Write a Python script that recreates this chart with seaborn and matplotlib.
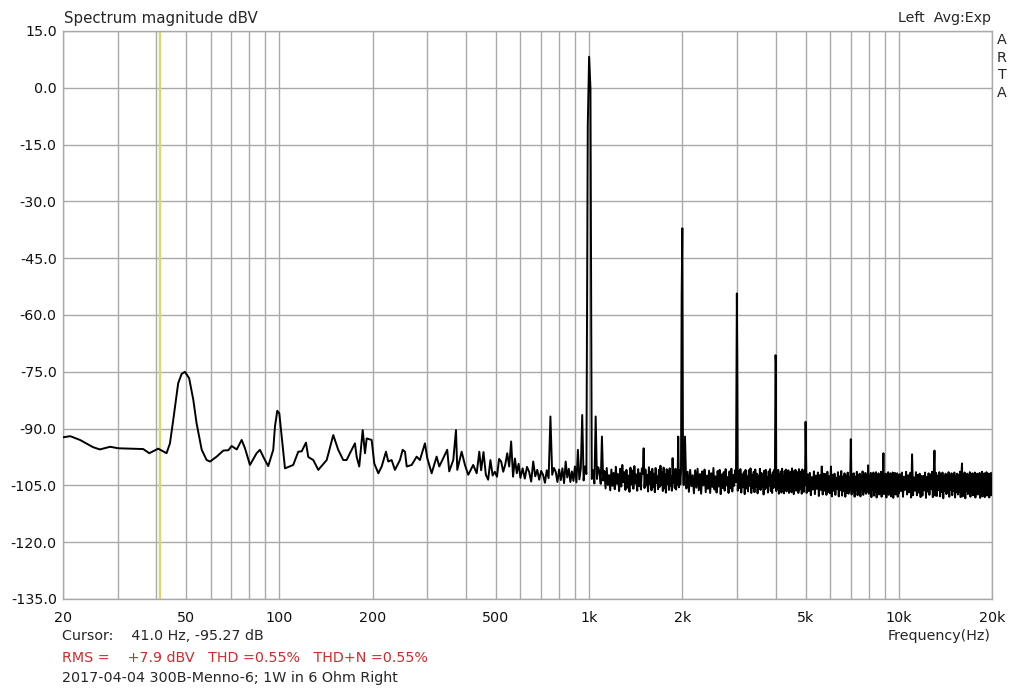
import numpy as np
import pandas as pd
import matplotlib
matplotlib.use("Agg")
import matplotlib.pyplot as plt
import seaborn as sns
from matplotlib.ticker import FixedLocator, FixedFormatter, NullFormatter

# ---------------- data ----------------
low_freq = [20.0, 21.1, 22.7, 25.0, 26.3, 28.4, 30.2, 36.3, 38.0, 40.6,
            43.2, 44.3, 45.4, 47.1, 48.3, 49.5, 51.1, 52.7, 54.0, 56.1,
            58.2, 59.7, 62.7, 65.9, 68.4, 70.1, 72.8, 75.5, 77.4, 80.3,
            84.4, 86.5, 89.1, 92.0, 95.5, 96.7, 98.4, 99.9, 101.7, 104.2,
            110.8, 115.0, 118.0, 121.8, 123.9, 128.6, 133.5, 142.1, 149.2, 154.8,
            160.7]
low_db = [-92.3, -92.0, -93.0, -94.9, -95.5, -94.8, -95.2, -95.4, -96.5, -95.3,
          -96.5, -93.9, -87.7, -78.0, -75.6, -75.0, -76.7, -82.4, -88.6, -95.6,
          -98.3, -98.7, -97.4, -95.8, -95.7, -94.6, -95.5, -93.0, -95.2, -99.6,
          -96.5, -95.6, -97.8, -99.9, -95.6, -89.5, -85.3, -86.0, -92.1, -100.5,
          -99.6, -96.1, -96.0, -93.7, -97.5, -98.3, -100.9, -98.3, -91.7, -95.6,
          -98.3]

mid_freq = [164.8, 168.9, 175.3, 177.5, 181.0, 185.7, 188.9, 191.3, 198.5, 202.4,
            208.6, 213.9, 220.8, 224.6, 230.3, 236.0, 245.0, 250.0, 254.3, 257.6,
            267.3, 277.4, 284.2, 295.0, 300.2, 310.1, 321.8, 328.2, 338.1, 348.2,
            353.4, 364.2, 371.6, 375.2, 387.6, 397.2, 407.1, 422.4, 433.4, 442.0]
mid_db = [-98.3, -96.5, -93.9, -97.4, -100.0, -90.4, -96.5, -92.6, -93.0, -99.2,
          -101.8, -100.0, -96.1, -98.7, -98.3, -100.9, -98.3, -95.6, -96.1, -100.0,
          -99.6, -97.4, -98.3, -93.9, -97.8, -101.8, -97.4, -100.0, -97.8, -95.6,
          -101.3, -98.3, -90.4, -100.9, -96.1, -99.6, -102.2, -99.6, -101.8, -96.1]

mid2_freq = [448, 456, 464, 472, 480, 488, 496, 504, 512, 520,
             528, 536, 544, 552, 560, 568, 576, 584, 592, 600,
             610, 620, 630, 640, 650, 660, 670, 680, 690, 700,
             710, 720, 730, 740, 750, 760, 770, 780, 790, 800,
             810, 820, 830, 840, 850, 860, 870, 880, 890, 900,
             910, 920, 930, 940, 950, 960, 970, 980, 990, 1000,
             1010, 1020, 1030, 1040, 1050, 1060, 1070, 1080, 1090, 1100,
             1110]
mid2_db = [-101.0, -96.2, -102.2, -103.5, -98.3, -102.4, -101.4, -102.7, -98.0, -98.7,
           -101.4, -99.5, -96.5, -100.0, -93.4, -102.7, -97.9, -101.8, -99.3, -103.0,
           -100.5, -103.2, -100.1, -101.4, -104.0, -98.7, -102.6, -100.9, -103.5, -101.2,
           -102.2, -104.3, -101.0, -103.1, -86.8, -102.2, -100.4, -101.4, -104.1, -100.8,
           -103.6, -100.5, -104.4, -98.7, -102.9, -100.6, -104.1, -101.3, -103.8, -100.0,
           -104.2, -95.6, -103.4, -100.6, -86.4, -103.7, -100.0, -102.0, -10.0, 8.2,
           -0.1, -103.3, -101.0, -104.5, -86.8, -103.3, -100.2, -101.4, -104.6, -92.1,
           -103.7]

hf_a_freq = [1120, 1130, 1140, 1150, 1160, 1170, 1180, 1190, 1200, 1210,
             1220, 1230, 1240, 1250, 1260, 1270, 1280, 1290, 1300, 1310,
             1320, 1330, 1340, 1350, 1360, 1370, 1380, 1390, 1400, 1410,
             1420, 1430, 1440, 1450, 1460, 1470, 1480, 1490, 1500, 1510,
             1520, 1530, 1540, 1550, 1560, 1570, 1580, 1590, 1600, 1610,
             1620, 1630, 1640, 1650, 1660, 1670, 1680, 1690, 1700, 1710,
             1720, 1730, 1740, 1750, 1760, 1770, 1780, 1790, 1800, 1810,
             1820, 1830, 1840, 1850, 1860, 1870, 1880, 1890, 1900, 1910,
             1920, 1930, 1940, 1950, 1960, 1970, 1980, 1990, 2000]
hf_a_db = [-101.2, -105.8, -100.4, -104.9, -102.3, -106.3, -100.8, -105.1, -101.7, -106.0,
           -100.1, -104.6, -102.0, -106.5, -100.6, -105.3, -99.6, -104.2, -101.5, -106.2,
           -100.9, -105.6, -102.4, -106.7, -100.3, -104.8, -101.1, -105.9, -99.9, -104.5,
           -102.1, -106.4, -100.7, -105.2, -101.8, -106.1, -100.5, -101.9, -95.2, -105.7,
           -100.8, -105.0, -102.2, -106.6, -100.2, -104.7, -101.4, -106.3, -100.6, -105.5,
           -101.9, -106.8, -100.4, -104.4, -102.6, -106.0, -100.9, -105.4, -99.8, -104.9,
           -101.6, -106.5, -100.3, -105.8, -102.0, -106.9, -100.7, -104.6, -101.3, -106.2,
           -100.5, -105.1, -102.5, -106.4, -97.8, -104.3, -101.0, -105.7, -100.6, -106.1,
           -101.2, -104.8, -92.1, -105.5, -100.9, -104.7, -101.5, -54.7, -37.1]

hf_b_freq = [2010,
             2020, 2040, 2060, 2080, 2100, 2120, 2140, 2160, 2180, 2200,
             2220, 2240, 2260, 2280, 2300, 2320, 2340, 2360, 2380, 2400,
             2420, 2440, 2460, 2480, 2500, 2520, 2540, 2560, 2580, 2600,
             2620, 2640, 2660, 2680, 2700, 2720, 2740, 2760, 2780, 2800,
             2820, 2840, 2860, 2880, 2900, 2920, 2940, 2960, 2980,
             3000, 3010,
             3020, 3040, 3060, 3080, 3100, 3120, 3140, 3160, 3180, 3200,
             3220, 3240, 3260, 3280, 3300, 3320, 3340, 3360, 3380, 3400,
             3420, 3440, 3460, 3480, 3500, 3520, 3540, 3560, 3580, 3600,
             3620, 3640, 3660, 3680, 3700, 3720, 3740, 3760, 3780, 3800,
             3820, 3840, 3860, 3880, 3900, 3920, 3940, 3960, 3980,
             4000, 4010,
             4020, 4040, 4060, 4080, 4100, 4120, 4140, 4160, 4180, 4200,
             4220, 4240, 4260, 4280, 4300, 4320, 4340, 4360, 4380, 4400,
             4420, 4440, 4460, 4480, 4500, 4520, 4540, 4560, 4580, 4600,
             4620, 4640, 4660, 4680, 4700, 4720, 4740, 4760, 4780, 4800,
             4820, 4840, 4860, 4880, 4900, 4920, 4940, 4960, 4980]
hf_b_db = [-100.2,
           -104.9, -92.1, -105.8, -101.4, -106.7, -100.9, -105.2, -102.3, -107.1, -101.0,
           -105.6, -100.6, -106.3, -102.0, -107.2, -101.3, -105.0, -100.8, -106.8, -102.4,
           -105.9, -101.1, -107.0, -101.8, -105.4, -100.4, -106.1, -102.6, -106.9, -101.2,
           -105.3, -100.9, -107.3, -102.1, -105.7, -101.5, -106.4, -100.7, -105.0, -102.8,
           -107.0, -101.3, -105.8, -100.6, -106.6, -102.2, -105.1, -101.0, -104.2,
           -54.3, -71.9,
           -106.4, -101.2, -105.7, -100.7, -106.9, -102.1, -105.5, -101.5, -107.3, -100.9,
           -105.8, -102.6, -106.6, -101.0, -105.1, -100.5, -107.0, -102.2, -105.6, -101.4,
           -106.8, -100.8, -105.3, -101.9, -107.1, -102.4, -105.9, -100.6, -106.2, -101.7,
           -105.4, -102.0, -107.4, -101.1, -106.0, -100.9, -105.6, -102.7, -106.9, -101.3,
           -105.2, -100.7, -106.5, -102.3, -107.0, -101.5, -105.7, -100.9, -103.8,
           -70.6, -72.7,
           -106.5, -101.6, -105.9, -100.9, -107.2, -102.0, -105.4, -101.3, -106.9, -100.6,
           -105.7, -102.5, -107.1, -101.2, -105.3, -100.8, -106.6, -102.3, -105.8, -101.0,
           -107.0, -101.7, -105.5, -101.4, -106.8, -100.5, -105.9, -102.1, -107.3, -101.1,
           -105.6, -100.9, -106.4, -102.6, -105.2, -101.5, -107.0, -100.7, -106.1, -102.0,
           -105.4, -101.3, -107.2, -100.8, -105.9, -102.4, -106.7, -101.1, -105.0]

hf_c_freq = [5000, 5040, 5080, 5120, 5160, 5200, 5240, 5280, 5320, 5360,
             5400, 5440, 5480, 5520, 5560, 5600, 5640, 5680, 5720, 5760,
             5800, 5840, 5880, 5920, 5960, 6000, 6040, 6080, 6120, 6160,
             6200, 6240, 6280, 6320, 6360, 6400, 6440, 6480, 6520, 6560,
             6600, 6640, 6680, 6720, 6760, 6800, 6840, 6880, 6920, 6960,
             7000, 7040, 7080, 7120, 7160, 7200, 7240, 7280, 7320, 7360,
             7400, 7440, 7480, 7520, 7560, 7600, 7640, 7680, 7720, 7760,
             7800, 7840, 7880, 7920, 7960, 8000, 8040, 8080, 8120, 8160,
             8200, 8240, 8280, 8320, 8360, 8400, 8440, 8480, 8520, 8560,
             8600, 8640, 8680, 8720, 8760, 8800, 8840, 8880, 8920, 8960,
             9000, 9040, 9080, 9120, 9160, 9200, 9240, 9280, 9320, 9360,
             9400, 9440, 9480, 9520, 9560, 9600, 9640, 9680, 9720, 9760,
             9800, 9840, 9880, 9920, 9960]
hf_c_db = [-88.2, -107.0, -102.1, -106.5, -101.7, -107.6, -102.8, -106.1, -101.3, -107.3,
           -102.4, -105.9, -101.6, -107.8, -102.3, -106.2, -100.0, -107.4, -101.9, -106.4,
           -102.0, -107.5, -101.4, -106.8, -102.6, -107.1, -100.0, -107.9, -102.2, -106.4,
           -101.9, -107.5, -103.0, -106.0, -101.5, -107.9, -102.6, -106.3, -101.2, -107.7,
           -102.7, -106.5, -101.8, -108.0, -102.4, -106.9, -101.6, -107.2, -102.9, -106.3,
           -92.8, -107.4, -102.0, -106.7, -101.8, -108.0, -102.7, -106.2, -101.4, -107.6,
           -102.3, -106.8, -101.9, -107.9, -102.5, -106.1, -101.3, -107.5, -102.8, -106.6,
           -101.7, -107.2, -102.4, -106.6, -99.7, -107.2, -102.5, -106.4, -101.7, -108.1,
           -102.9, -106.0, -101.6, -107.7, -102.1, -106.6, -101.5, -108.2, -102.7, -106.3,
           -101.8, -107.4, -102.3, -106.9, -101.4, -108.0, -102.6, -106.5, -96.5, -107.3,
           -102.4, -106.9, -101.9, -108.2, -102.6, -106.3, -101.5, -107.5, -102.2, -106.7,
           -101.8, -107.9, -102.9, -106.1, -101.6, -108.3, -102.4, -106.8, -101.7, -107.4,
           -102.5, -106.7, -101.8, -108.0, -102.3]

hf_d_freq = [10000, 10080, 10160, 10240, 10320, 10400, 10480, 10560, 10640, 10720,
             10800, 10880, 10960, 11040, 11120, 11200, 11280, 11360, 11440, 11520,
             11600, 11680, 11760, 11840, 11920, 12000, 12080, 12160, 12240, 12320,
             12400, 12480, 12560, 12640, 12720, 12800, 12880, 12960, 13040, 13120,
             13200, 13280, 13360, 13440, 13520, 13600, 13680, 13760, 13840, 13920,
             14000, 14080, 14160, 14240, 14320, 14400, 14480, 14560, 14640, 14720,
             14800, 14880, 14960, 15040, 15120, 15200, 15280, 15360, 15440, 15520,
             15600, 15680, 15760, 15840, 15920, 16000, 16080, 16160, 16240, 16320,
             16400, 16480, 16560, 16640, 16720, 16800, 16880, 16960, 17040, 17120,
             17200, 17280, 17360, 17440, 17520, 17600, 17680, 17760, 17840, 17920,
             18000, 18080, 18160, 18240, 18320, 18400, 18480, 18560, 18640, 18720,
             18800, 18880, 18960, 19040, 19120, 19200, 19280, 19360, 19440, 19520,
             19600, 19680, 19760, 19840, 19920, 20000]
hf_d_db = [-107.1, -102.0, -106.5, -101.6, -108.0, -102.7, -106.2, -101.4, -107.4, -102.3,
           -106.8, -101.7, -108.2, -96.8, -107.6, -102.9, -106.4, -101.5, -107.6, -102.2,
           -106.9, -101.9, -108.1, -102.5, -107.7, -102.5, -106.3, -101.6, -108.3, -102.8,
           -106.6, -101.8, -107.5, -102.1, -106.0, -101.4, -108.1, -102.6, -95.8, -107.7,
           -101.7, -107.8, -102.4, -106.2, -101.5, -107.9, -102.0, -106.8, -101.6, -108.4,
           -102.7, -106.4, -101.9, -107.3, -102.3, -106.9, -101.5, -108.0, -102.9, -106.1,
           -101.8, -107.6, -102.2, -106.5, -101.6, -108.2, -102.5, -106.7, -101.9, -107.4,
           -102.3, -106.8, -101.4, -108.1, -102.6, -99.2, -107.9, -102.0, -106.8, -101.6,
           -108.4, -102.7, -106.4, -101.9, -107.3, -102.3, -106.9, -101.5, -108.0, -102.9,
           -106.1, -101.8, -107.6, -102.2, -106.5, -101.6, -108.2, -102.5, -106.7, -101.9,
           -107.4, -102.3, -106.6, -101.7, -108.3, -102.8, -106.2, -101.4, -107.9, -102.1,
           -106.9, -101.8, -108.1, -102.6, -106.4, -101.5, -107.7, -102.4, -106.8, -101.9,
           -108.2, -102.2, -106.5, -101.7, -107.6, -104.8]

x_tick_vals = [20, 50, 100, 200, 500, 1000, 2000, 5000, 10000, 20000]
x_tick_labels = ["20", "50", "100", "200", "500", "1k", "2k", "5k", "10k", "20k"]
x_grid_vals = [30, 40, 60, 70, 80, 90, 300, 400, 600, 700, 800, 900,
               3000, 4000, 6000, 7000, 8000, 9000]
y_tick_vals = [15, 0, -15, -30, -45, -60, -75, -90, -105, -120, -135]
cursor_freq = 41.0

title_text = "Spectrum magnitude dBV"
channel_text = "Left  Avg:Exp"
brand_letters = ["A", "R", "T", "A"]
cursor_text = "Cursor:    41.0 Hz, -95.27 dB"
rms_text = "RMS =    +7.9 dBV   THD =0.55%   THD+N =0.55%"
info_text = "2017-04-04 300B-Menno-6; 1W in 6 Ohm Right"
xlabel_text = "Frequency(Hz)"

# ---------------- assemble ----------------
freq = low_freq + mid_freq + mid2_freq + hf_a_freq + hf_b_freq + hf_c_freq + hf_d_freq
db = low_db + mid_db + mid2_db + hf_a_db + hf_b_db + hf_c_db + hf_d_db
df = pd.DataFrame({"freq": freq, "db": db}).sort_values("freq")

W, H = 1010, 688
sns.set_theme(style="white")
plt.rcParams["font.family"] = ["DejaVu Sans"]
fig = plt.figure(figsize=(W / 100, H / 100), dpi=100)
fig.patch.set_facecolor("white")
L, R, T, B = 63, 992, 31, 599
ax = fig.add_axes([L / W, 1 - B / H, (R - L) / W, (B - T) / H])
ax.set_facecolor("white")

grid_c = "#a9a9a9"
ax.axvline(cursor_freq, color="#d8d86a", lw=1.7, zorder=2)
sns.lineplot(data=df, x="freq", y="db", ax=ax, color="black", lw=1.4,
             estimator=None, sort=True, zorder=3)

ax.set_xscale("log")
ax.set_xlim(20, 20000)
ax.set_ylim(-135, 15)
ax.xaxis.set_major_locator(FixedLocator(x_tick_vals))
ax.xaxis.set_major_formatter(FixedFormatter(x_tick_labels))
ax.xaxis.set_minor_locator(FixedLocator(x_grid_vals))
ax.xaxis.set_minor_formatter(NullFormatter())
ax.yaxis.set_major_locator(FixedLocator(y_tick_vals))
ax.yaxis.set_major_formatter(FixedFormatter([f"{v:.1f}" for v in y_tick_vals]))
ax.grid(which="both", color=grid_c, lw=1.0, zorder=0)
ax.set_axisbelow(True)
ax.tick_params(axis="both", which="both", length=0, labelsize=10.3, colors="#111111")
ax.tick_params(axis="x", pad=8.5)
ax.tick_params(axis="y", pad=4.5)
for s in ax.spines.values():
    s.set_color(grid_c)
    s.set_linewidth(1.0)
ax.set_xlabel("")
ax.set_ylabel("")

fs = 10.3
fig.text(64 / W, 1 - 18 / H, title_text, fontsize=10.8, va="center", ha="left")
fig.text(991 / W, 1 - 18 / H, channel_text, fontsize=fs, va="center", ha="right")
for i, ch in enumerate(brand_letters):
    fig.text(1002 / W, 1 - (40 + i * 17.7) / H, ch, fontsize=fs, va="center", ha="center")
fig.text(62 / W, 1 - 636 / H, cursor_text, fontsize=fs, va="center", ha="left")
fig.text(62 / W, 1 - 658 / H, rms_text, fontsize=fs, va="center", ha="left", color="#d22b2b")
fig.text(62 / W, 1 - 678 / H, info_text, fontsize=fs, va="center", ha="left")
fig.text(991 / W, 1 - 636 / H, xlabel_text, fontsize=fs, va="center", ha="right")

fig.savefig("out.png", dpi=100, facecolor="white")
